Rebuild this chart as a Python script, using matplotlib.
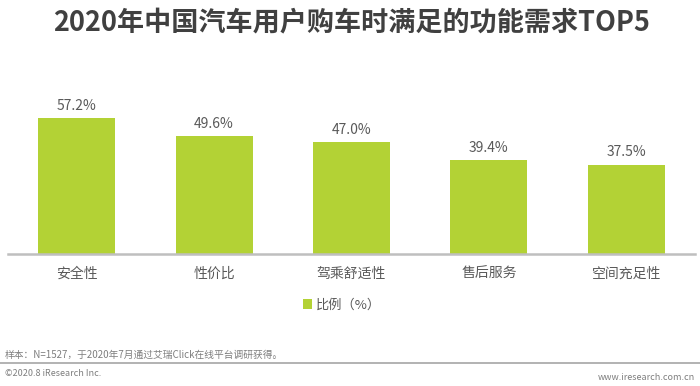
import matplotlib
matplotlib.use("Agg")
import matplotlib.pyplot as plt
from matplotlib.lines import Line2D
from matplotlib.patches import Patch

plt.rcParams['font.family'] = ['Noto Sans CJK SC', 'DejaVu Sans']

categories = ["安全性", "性价比", "驾乘舒适性", "售后服务", "空间充足性"]
values = [57.2, 49.6, 47.0, 39.4, 37.5]
title = "2020年中国汽车用户购车时满足的功能需求TOP5"
legend_label = "比例（%）"
note = "样本：N=1527，于2020年7月通过艾瑞Click在线平台调研获得。"
copyright_text = "©2020.8 iResearch Inc."
site = "www.iresearch.com.cn"

W, H = 700, 386
fig = plt.figure(figsize=(W / 100, H / 100), dpi=100)
fig.patch.set_facecolor("white")

left, right = 8 / W, 695 / W
bottom = (H - 254) / H
top = (H - (254 - 60 * 2.375)) / H
ax = fig.add_axes([left, bottom, right - left, top - bottom])

bar_color = "#B3D235"
text_gray = "#595959"
x = range(len(categories))
bars = ax.bar(x, values, width=0.56, color=bar_color, zorder=2)
ax.set_xlim(-0.5, len(categories) - 0.5)
ax.set_ylim(0, 60)

for xi, v in zip(x, values):
    ax.annotate(f"{v:.1f}%", (xi, v), xytext=(0, 4), textcoords="offset points",
                ha="center", va="bottom", fontsize=10, color=text_gray)

for s in ["top", "right", "left"]:
    ax.spines[s].set_visible(False)
ax.spines["bottom"].set_color("#BFBFBF")
ax.spines["bottom"].set_linewidth(1.8)
ax.set_yticks([])
ax.set_xticks(list(x))
ax.set_xticklabels(categories, fontsize=10, color=text_gray)
ax.tick_params(axis="x", length=0, pad=9)

fig.text(352 / W, 1 - 22 / H, title, ha="center", va="center",
         fontsize=19.5, fontweight="bold", color="#404040")

# legend
fig.legend(handles=[Patch(facecolor=bar_color, edgecolor="none")], labels=[legend_label],
           loc="center", bbox_to_anchor=(342 / W, 1 - 305 / H), frameon=False,
           fontsize=9.5, handlelength=0.7, handleheight=0.7, handletextpad=0.3,
           labelcolor=text_gray)

fig.text(5 / W, 1 - 355 / H, note, ha="left", va="center", fontsize=7, color="#7F7F7F")
fig.add_artist(Line2D([0, 1], [1 - 362.5 / H, 1 - 362.5 / H], color="#A6A6A6", lw=1.2))
fig.text(5 / W, 1 - 374 / H, copyright_text, ha="left", va="center", fontsize=6.5, color="#7F7F7F")
fig.text(695 / W, 1 - 377 / H, site, ha="right", va="center", fontsize=6.5, color="#7F7F7F")

fig.savefig("out.png", dpi=100, facecolor="white")
